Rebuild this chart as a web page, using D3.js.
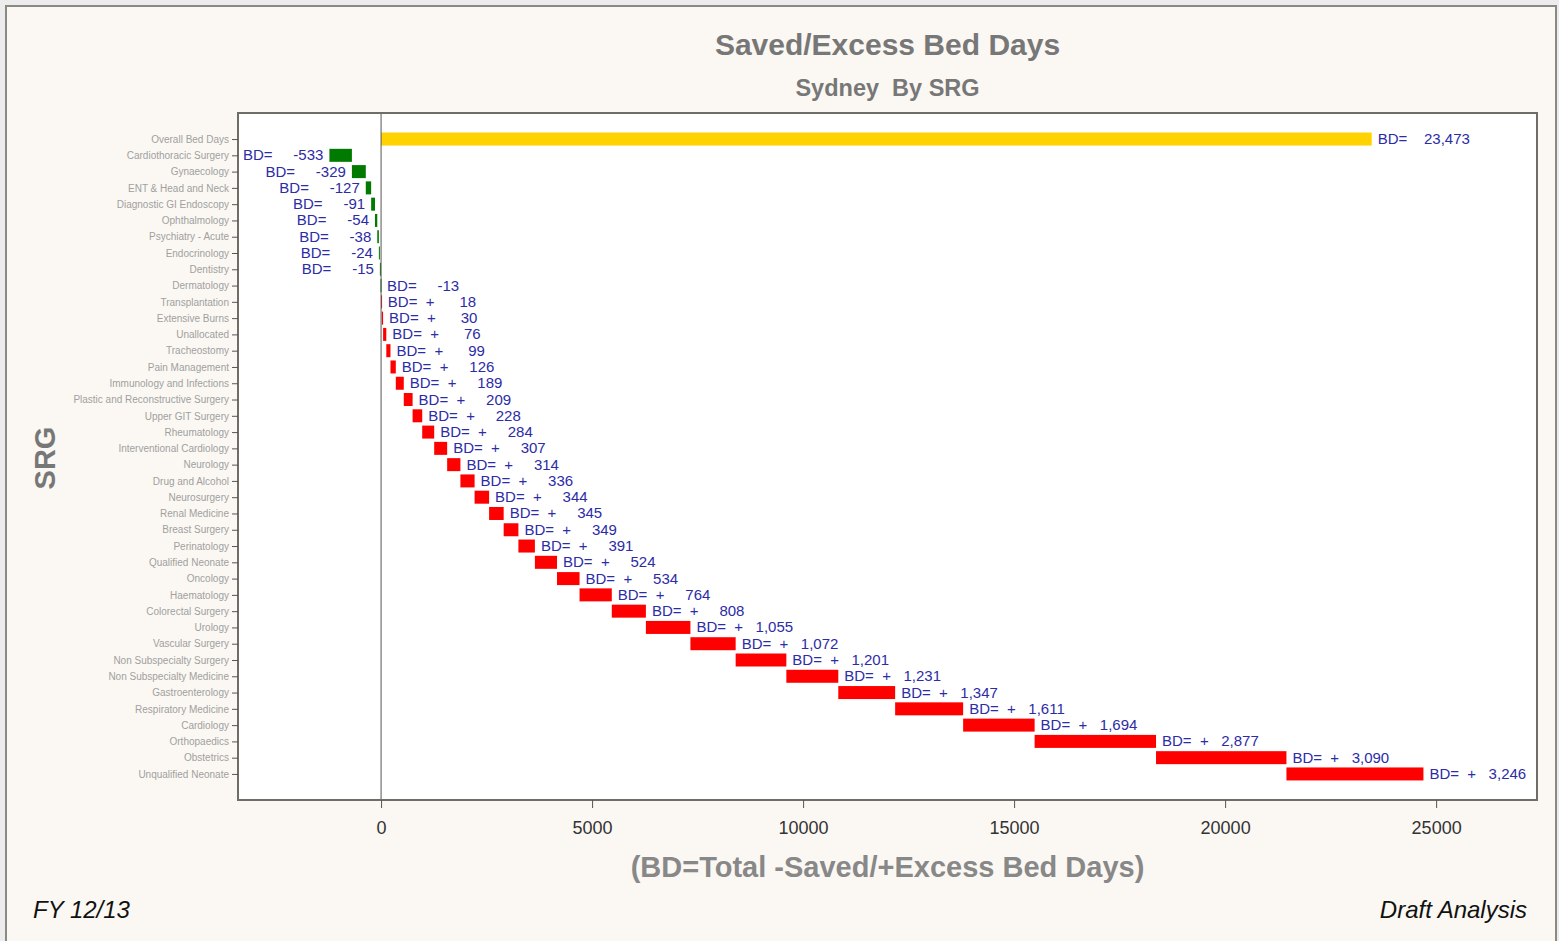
<!DOCTYPE html>
<head>
  <meta charset="utf-8">
  <script src="https://d3js.org/d3.v7.min.js"></script>
  <title>Saved/Excess Bed Days</title>
  <style>
    body {
      margin: 0;
      background: #ececec;
      font-family: Arial, "Liberation Sans", sans-serif;
    }
    svg { display: block; }
    .ylab text { fill: #a0a0a0; font-size: 10px; }
    .ylab line, .xaxis line { stroke: #555; }
    .xaxis text { fill: #333; font-size: 18px; }
    .bdlab { fill: #2c2ca6; font-size: 15px; white-space: pre; }
  </style>
</head>
<body>
<svg width="1559" height="941"></svg>
<script>

// SRG categories, top to bottom
var categories = ["Overall Bed Days", "Cardiothoracic Surgery", "Gynaecology", "ENT & Head and Neck",
  "Diagnostic GI Endoscopy", "Ophthalmology", "Psychiatry - Acute", "Endocrinology", "Dentistry",
  "Dermatology", "Transplantation", "Extensive Burns", "Unallocated", "Tracheostomy", "Pain Management",
  "Immunology and Infections", "Plastic and Reconstructive Surgery", "Upper GIT Surgery", "Rheumatology",
  "Interventional Cardiology", "Neurology", "Drug and Alcohol", "Neurosurgery", "Renal Medicine",
  "Breast Surgery", "Perinatology", "Qualified Neonate", "Oncology", "Haematology", "Colorectal Surgery",
  "Urology", "Vascular Surgery", "Non Subspecialty Surgery", "Non Subspecialty Medicine",
  "Gastroenterology", "Respiratory Medicine", "Cardiology", "Orthopaedics", "Obstetrics",
  "Unqualified Neonate"];

// saved (-) / excess (+) bed days per SRG, first entry is the overall total
var bedDays = [23473, -533, -329, -127, -91, -54, -38, -24, -15, -13, 18, 30, 76, 99, 126, 189, 209,
  228, 284, 307, 314, 336, 344, 345, 349, 391, 524, 534, 764, 808, 1055, 1072, 1201, 1231, 1347,
  1611, 1694, 2877, 3090, 3246];

var xTicks = [0, 5000, 10000, 15000, 20000, 25000];

var svg = d3.select("svg");
var W = 1559, H = 941;
var plot = {left: 238, right: 1537, top: 113, bottom: 800};

// page panel
svg.append("rect")
    .attr("x", 6).attr("y", 6)
    .attr("width", W - 9).attr("height", H)
    .attr("fill", "#fbf8f3")
    .attr("stroke", "#8a8a82")
    .attr("stroke-width", 2);

svg.append("rect")
    .attr("x", plot.left).attr("y", plot.top)
    .attr("width", plot.right - plot.left).attr("height", plot.bottom - plot.top)
    .attr("fill", "#fff");

var x = d3.scaleLinear()
    .domain([-3390, 27390])
    .range([plot.left, plot.right]);

var y = d3.scalePoint()
    .domain(categories)
    .range([plot.top, plot.bottom])
    .padding(1.6);

// waterfall: negatives stacked up to 0, positives stacked from 0
var negSum = d3.sum(bedDays.slice(1), function(v) { return v < 0 ? v : 0; });
var run = negSum;
var rows = categories.map(function(c, i) {
  var v = bedDays[i];
  if (i === 0) return {cat: c, v: v, a: 0, b: v, total: true};
  var a = run;
  if (v < 0) { run = run - v; } else { run = run + v; }
  return {cat: c, v: v, a: Math.min(a, run), b: Math.max(a, run), total: false, end: run};
});

var barH = 13;

svg.append("g")
  .selectAll("rect")
  .data(rows)
  .enter().append("rect")
    .attr("x", function(d) { return x(d.a); })
    .attr("y", function(d) { return y(d.cat) - barH / 2; })
    .attr("width", function(d) { return Math.max(1, x(d.b) - x(d.a)); })
    .attr("height", barH)
    .attr("fill", function(d) { return d.total ? "#ffd200" : (d.v < 0 ? "#007a00" : "#ff0000"); });

// zero reference line
svg.append("line")
    .attr("x1", x(0)).attr("x2", x(0))
    .attr("y1", plot.top).attr("y2", plot.bottom)
    .attr("stroke", "#555").attr("stroke-width", 1);

// plot frame
svg.append("rect")
    .attr("x", plot.left).attr("y", plot.top)
    .attr("width", plot.right - plot.left).attr("height", plot.bottom - plot.top)
    .attr("fill", "none")
    .attr("stroke", "#6e6e66")
    .attr("stroke-width", 2);

var fmt = function(v) { return d3.format(",")(v).replace("\u2212", "-"); };
function pad(s, n) { while (s.length < n) s = " " + s; return s; }

var labels = svg.append("g");
rows.forEach(function(d) {
  var yy = y(d.cat) + 5;
  if (d.total) {
    labels.append("text").attr("class", "bdlab")
        .attr("x", x(d.b) + 6).attr("y", yy)
        .text("BD=    " + fmt(d.v));
  } else if (d.v < 0 && d.end < 0) {
    labels.append("text").attr("class", "bdlab")
        .attr("x", x(d.a) - 6).attr("y", yy)
        .attr("text-anchor", "end")
        .text("BD=     " + fmt(d.v));
  } else if (d.v < 0) {
    labels.append("text").attr("class", "bdlab")
        .attr("x", x(d.b) + 6).attr("y", yy)
        .text("BD=     " + fmt(d.v));
  } else {
    labels.append("text").attr("class", "bdlab")
        .attr("x", x(d.b) + 6).attr("y", yy)
        .text("BD=  +  " + pad(fmt(d.v), 6));
  }
});

// y axis
svg.append("g")
    .attr("class", "ylab")
    .attr("transform", "translate(" + plot.left + ",0)")
    .call(d3.axisLeft(y).tickSize(6).tickPadding(3))
    .call(function(g) { g.select(".domain").remove(); });

// x axis
svg.append("g")
    .attr("class", "xaxis")
    .attr("transform", "translate(0," + plot.bottom + ")")
    .call(d3.axisBottom(x).tickValues(xTicks).tickFormat(d3.format("d")).tickSize(8).tickPadding(13))
    .call(function(g) { g.select(".domain").remove(); });

var cx = (plot.left + plot.right) / 2;

svg.append("text")
    .attr("x", cx).attr("y", 55)
    .attr("text-anchor", "middle")
    .attr("font-size", 30).attr("font-weight", "bold").attr("fill", "#777")
    .text("Saved/Excess Bed Days");

svg.append("text")
    .attr("x", cx).attr("y", 96)
    .attr("text-anchor", "middle")
    .attr("font-size", 23.5).attr("font-weight", "bold").attr("fill", "#777")
    .style("white-space", "pre")
    .text("Sydney  By SRG");

svg.append("text")
    .attr("transform", "translate(55,458) rotate(-90)")
    .attr("text-anchor", "middle")
    .attr("font-size", 29).attr("font-weight", "bold").attr("fill", "#777")
    .text("SRG");

svg.append("text")
    .attr("x", cx).attr("y", 877)
    .attr("text-anchor", "middle")
    .attr("font-size", 29).attr("font-weight", "bold").attr("fill", "#888")
    .text("(BD=Total -Saved/+Excess Bed Days)");

svg.append("text")
    .attr("x", 33).attr("y", 918)
    .attr("font-size", 24).attr("font-style", "italic").attr("fill", "#111")
    .text("FY 12/13");

svg.append("text")
    .attr("x", 1527).attr("y", 918)
    .attr("text-anchor", "end")
    .attr("font-size", 24).attr("font-style", "italic").attr("fill", "#111")
    .text("Draft Analysis");

</script>
</body>
